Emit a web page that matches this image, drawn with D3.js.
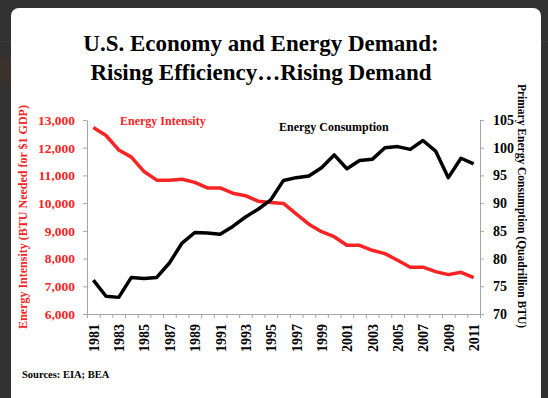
<!DOCTYPE html>
<html>
<head>
<meta charset="utf-8">
<script src="https://cdn.jsdelivr.net/npm/d3@7"></script>
<style>
  html, body { margin: 0; padding: 0; background: #323232; overflow: hidden; }
  svg { display: block; }
  text { font-family: "Liberation Serif", "Times New Roman", serif; font-weight: bold; }
</style>
</head>
<body>
<div id="chart"></div>
<script>
// years on the category axis
const years = d3.range(1981, 2012);
const yearLabels = years.filter(y => y % 2 === 1);

// Energy intensity, BTU needed for $1 GDP (left axis)
const intensity = [12730, 12440, 11920, 11660, 11140, 10830, 10830, 10860, 10750, 10550,
  10550, 10360, 10270, 10070, 10020, 9990, 9610, 9240, 8970, 8790,
  8480, 8480, 8300, 8180, 7940, 7690, 7690, 7530, 7420, 7505, 7310];

// Primary energy consumption, quadrillion BTU (right axis)
const consumption = [76.1, 73.2, 73.0, 76.6, 76.4, 76.6, 79.2, 82.8, 84.7, 84.6,
  84.4, 85.8, 87.5, 88.9, 90.6, 94.1, 94.6, 94.9, 96.4, 98.7,
  96.2, 97.7, 97.9, 100.0, 100.2, 99.7, 101.3, 99.4, 94.6, 98.1, 97.1];

const leftTicks = [6000, 7000, 8000, 9000, 10000, 11000, 12000, 13000];
const rightTicks = [70, 75, 80, 85, 90, 95, 100, 105];

const width = 548, height = 398;
const plot = {left: 87, right: 480, top: 120, bottom: 314};
const red = '#fb2424';
const axisGray = '#a6a6a6';

const svg = d3.select('#chart').append('svg')
  .attr('width', width)
  .attr('height', height);

// page chrome around the slide
svg.append('rect').attr('x', 0).attr('y', 41).attr('width', width).attr('height', 1).attr('fill', '#3d3d3d');
svg.append('rect').attr('x', 0).attr('y', 57).attr('width', 11).attr('height', 24).attr('fill', '#3b322e');
svg.append('rect')
  .attr('x', 11).attr('y', 8)
  .attr('width', 530).attr('height', 420)
  .attr('rx', 8)
  .attr('fill', '#fff');

// title
const title = svg.append('text')
  .attr('text-anchor', 'middle')
  .attr('font-size', 23)
  .attr('fill', '#000');
title.append('tspan').attr('x', 261).attr('y', 51).text('U.S. Economy and Energy Demand:');
title.append('tspan').attr('x', 261).attr('y', 80).text('Rising Efficiency\u2026Rising Demand');

// scales
const x = d3.scaleLinear().domain([1980.5, 2011.5]).range([plot.left, plot.right]);
const yLeft = d3.scaleLinear().domain([6000, 13000]).range([plot.bottom, plot.top]);
const yRight = d3.scaleLinear().domain([70, 105]).range([plot.bottom, plot.top]);

function styleAxis(g) {
  g.select('.domain').attr('stroke', axisGray).attr('stroke-width', 1);
  g.selectAll('.tick line').attr('stroke', axisGray);
  g.selectAll('text').attr('font-family', '"Liberation Serif", "Times New Roman", serif').attr('font-weight', 'bold');
}

// left axis
svg.append('g')
  .attr('transform', `translate(${plot.left},0)`)
  .call(d3.axisLeft(yLeft).tickValues(leftTicks).tickSize(4).tickSizeOuter(0).tickPadding(8)
    .tickFormat(d3.format(',')))
  .call(styleAxis)
  .call(g => g.selectAll('text').attr('fill', red).attr('font-size', 13.5));

// right axis
svg.append('g')
  .attr('transform', `translate(${plot.right},0)`)
  .call(d3.axisRight(yRight).tickValues(rightTicks).tickSize(4).tickSizeOuter(0).tickPadding(9))
  .call(styleAxis)
  .call(g => g.selectAll('text').attr('fill', '#000').attr('font-size', 14));

// x axis: ticks between categories
svg.append('g')
  .attr('transform', `translate(0,${plot.bottom})`)
  .call(d3.axisBottom(x).tickValues(d3.range(1980.5, 2012, 1)).tickSize(4).tickSizeOuter(0).tickFormat(''))
  .call(styleAxis);

// x labels: every other year, rotated
svg.append('g')
  .attr('transform', `translate(0,${plot.bottom})`)
  .call(d3.axisBottom(x).tickValues(yearLabels).tickSize(0).tickFormat(d3.format('d')))
  .call(g => g.select('.domain').remove())
  .call(g => g.selectAll('text')
    .attr('font-size', 14)
    .attr('font-weight', 'bold')
    .attr('fill', '#000')
    .attr('text-anchor', 'end')
    .attr('transform', 'rotate(-90)')
    .attr('x', -10)
    .attr('y', 0)
    .attr('dy', '0.35em'));

// lines
const lineLeft = d3.line().x((d, i) => x(years[i])).y(d => yLeft(d));
const lineRight = d3.line().x((d, i) => x(years[i])).y(d => yRight(d));

svg.append('path')
  .datum(intensity)
  .attr('d', lineLeft)
  .attr('fill', 'none')
  .attr('stroke', red)
  .attr('stroke-width', 3.5)
  .attr('stroke-linejoin', 'round');

svg.append('path')
  .datum(consumption)
  .attr('d', lineRight)
  .attr('fill', 'none')
  .attr('stroke', '#000')
  .attr('stroke-width', 3.5)
  .attr('stroke-linejoin', 'round');

// series labels
svg.append('text').attr('x', 120).attr('y', 125).attr('font-size', 12).attr('fill', red).text('Energy Intensity');
svg.append('text').attr('x', 279).attr('y', 131).attr('font-size', 12).attr('fill', '#000').text('Energy Consumption');

// axis titles
svg.append('text')
  .attr('transform', 'translate(27,217) rotate(-90)')
  .attr('text-anchor', 'middle')
  .attr('font-size', 12)
  .attr('fill', red)
  .text('Energy Intensity  (BTU Needed for $1 GDP)');

svg.append('text')
  .attr('transform', 'translate(518,206) rotate(90)')
  .attr('text-anchor', 'middle')
  .attr('font-size', 11.5)
  .attr('fill', '#000')
  .text('Primary Energy Consumption (Quadrillion BTU)');

// source note
svg.append('text').attr('x', 22).attr('y', 378).attr('font-size', 10.5).attr('fill', '#000').text('Sources: EIA; BEA');
</script>
</body>
</html>
